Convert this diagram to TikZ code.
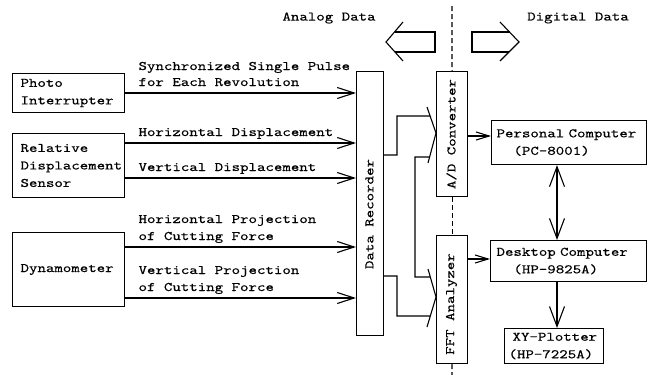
\documentclass[tikz,border=0pt]{standalone}
\usepackage{fontspec}
\newfontfamily\plotfont{lmmono10-regular.otf}[FakeStretch=1.24,FakeBold=0.3]
% monospaced spacing: the interword space as wide as one character
\newcommand\plottext{\plotfont\fontsize{13}{17.5}\selectfont
  \fontdimen2\font=8.45pt\fontdimen3\font=0pt\fontdimen4\font=0pt\relax}
\usetikzlibrary{arrows.meta,calc}

\begin{document}
\begin{tikzpicture}[x=1pt,y=-1pt,line width=1.1pt,
  every node/.style={font=\plottext,inner sep=0pt},
  box/.style={draw,anchor=north west,align=left,inner ysep=0pt},
  bar/.style={draw,anchor=north west,minimum width=#1},
  sig/.style={-{Straight Barb[length=17pt,width=11pt]}},
  sigsmall/.style={-{Straight Barb[length=13pt,width=8pt]}},
  sigv/.style={-{Straight Barb[length=20pt,width=15pt]}},
  sigvv/.style={{Straight Barb[length=20pt,width=15pt]}-{Straight Barb[length=20pt,width=15pt]}},
  lbl/.style={anchor=base west},
  divider/.style={dash pattern=on 5pt off 3pt},
]
\useasboundingbox (0,0) rectangle (649,375);

% sensors
\node[box,inner xsep=8pt,text width=96pt,minimum height=39pt] (photo) at (12,73) {Photo\\Interrupter};
\node[box,inner xsep=8pt,text width=96pt,minimum height=64pt] (sensor) at (12,133) {Relative\\Displacement\\Sensor};
\node[box,inner xsep=8pt,text width=96pt,minimum height=74pt] (dyn) at (12,232) {Dynamometer};

% recorder, converter and analyzer
\node[bar=27pt,minimum height=264pt] (dr) at (356,71) {};
\node[rotate=90] (drl) at (369.5,214) {Data Recorder};
\node[bar=31pt,minimum height=125pt] (ad) at (436,71) {};
\node[rotate=90] (adl) at (451.5,134) {A/D Converter};
\node[bar=31pt,minimum height=128pt] (fft) at (436,235) {};
\node[rotate=90] (fftl) at (451.5,304) {FFT Analyzer};

% computers
\node[box,inner xsep=5pt,text width=145pt,minimum height=44pt] (pc) at (491,120) {Personal Computer\\\phantom{Pe}(PC-8001)};
\node[box,inner xsep=6pt,text width=144pt,minimum height=41pt] (desk) at (490,240) {Desktop Computer\\\phantom{De}(HP-9825A)};
\node[box,inner xsep=4pt,text width=91pt,minimum height=35pt] (xy) at (504,328) {\hspace*{4pt}XY-Plotter\\(HP-7225A)};

% headings
\node (analog) at (329,18) {Analog Data};
\node (digital) at (578,18) {Digital Data};

% direction arrows
\draw (403,22) -- (386,42) -- (403,61);
\draw (394.5,32) -- (435,32) -- (435,52) -- (395,52);
\draw (500,22) -- (519,42) -- (500,61);
\draw (509.5,32) -- (472,32) -- (472,52) -- (509,52);

% analog / digital divider
\coordinate (dtop) at (452,6);
\coordinate (dbot) at (452,375);
\draw[divider] (dtop) -- (ad.north);
\draw[divider] (ad.south) -- (fft.north);
\draw[divider] (fft.south) -- (dbot);

% signal labels
\node[lbl] at (138,70) {Synchronized Single Pulse};
\node[lbl] at (138,86) {for Each Revolution};
\node[lbl] at (138,136) {Horizontal Displacement};
\node[lbl] at (138,171) {Vertical Displacement};
\node[lbl] at (138,223) {Horizontal Projection};
\node[lbl] at (138,240) {of Cutting Force};
\node[lbl] at (138,274) {Vertical Projection};
\node[lbl] at (138,291) {of Cutting Force};

% signals into the recorder
\draw[sig] (photo.east |- 0,93) -- (dr.west |- 0,93);
\draw[sig] (sensor.east |- 0,143) -- (dr.west |- 0,143);
\draw[sig] (sensor.east |- 0,178) -- (dr.west |- 0,178);
\draw[sig] (dyn.east |- 0,247) -- (dr.west |- 0,247);
\draw[sig] (dyn.east |- 0,298) -- (dr.west |- 0,298);

% merged inputs of the converter and the analyzer
\coordinate (adtip) at (ad.west |- 0,133);
\coordinate (adu) at ($(adtip)+(-9,-26)$);
\coordinate (adb) at ($(adtip)+(-8,30)$);
\draw (adu) -- (adtip) -- (adb);
\coordinate (ffttip) at (fft.west |- 0,297);
\coordinate (fftu) at ($(ffttip)+(-8,-28)$);
\coordinate (fftb) at ($(ffttip)+(-9,30)$);
\draw (fftu) -- (ffttip) -- (fftb);

\coordinate (h1) at (397,116);
\coordinate (h1r) at (445,116);
\draw (dr.east |- 0,155) -| (h1) -- (intersection of h1--h1r and adu--adtip);
\coordinate (h2) at (415,157);
\coordinate (h2r) at (445,157);
\coordinate (h3) at (415,277);
\coordinate (h3r) at (445,277);
\draw (intersection of h2--h2r and adtip--adb) -- (h2) -- (h3) -- (intersection of h3--h3r and fftu--ffttip);
\coordinate (h4) at (397,316);
\coordinate (h4r) at (445,316);
\draw (dr.east |- 0,276) -| (h4) -- (intersection of h4--h4r and ffttip--fftb);

% digital side
\coordinate (vx) at (557,0);
\draw[sigsmall] (ad.east |- 0,136) -- (pc.west |- 0,136);
\draw[sigsmall] (fft.east |- 0,259) -- (desk.west |- 0,259);
\draw[sigvv] (pc.south -| vx) -- (desk.north -| vx);
\draw[sigv] (desk.south -| vx) -- (xy.north -| vx);
\end{tikzpicture}
\end{document}
